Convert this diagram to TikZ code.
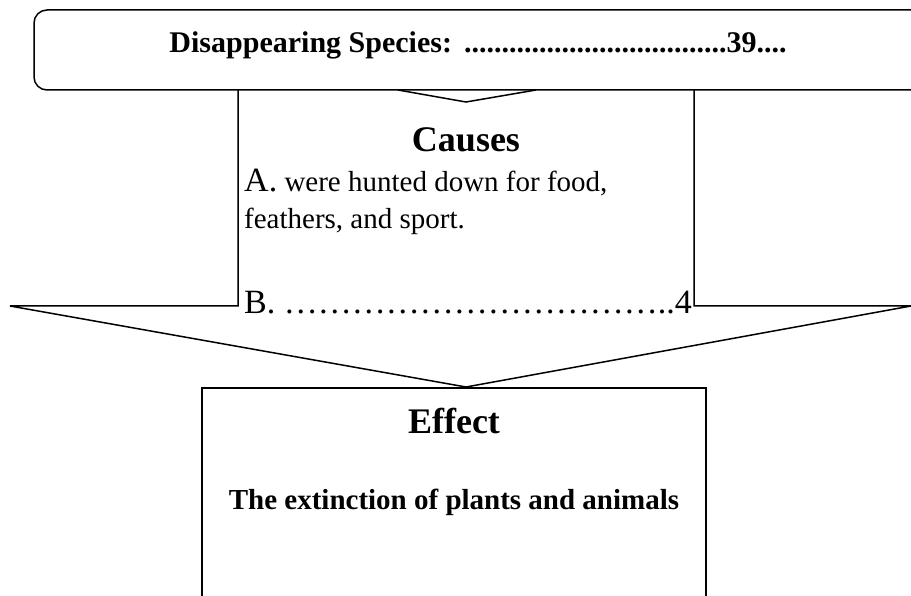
\documentclass[tikz,border=0pt]{standalone}
\usepackage{fontspec}
\setmainfont{Liberation Serif}
\usepackage{tikz}
\usetikzlibrary{positioning, calc}

\begin{document}
\begin{tikzpicture}[
    x=1pt, y=-1pt,
    titlebox/.style={rectangle, draw, rounded corners=13pt, line width=1.5pt,
                  minimum width=900pt, minimum height=80pt},
    effectbox/.style={rectangle, draw, line width=1.5pt,
                  minimum width=504pt, minimum height=240pt},
    heading/.style={font=\fontsize{36}{40}\selectfont\bfseries, inner sep=0pt},
    boldtext/.style={font=\fontsize{29}{34}\selectfont\bfseries, inner sep=0pt},
    plaintext/.style={font=\fontsize{29}{34}\selectfont, inner sep=0pt},
    outline/.style={line width=1.5pt, line join=miter}
]
\useasboundingbox (0,0) rectangle (911,596);

% title bar
\node[titlebox] (title) at (484,50) {};
\node[boldtext, anchor=base, font=\fontsize{30}{34}\selectfont\bfseries] (titletext) at (478,53) {Disappearing Species:\hspace{12pt}...................................39....};
\coordinate (vl) at (398,90);
\coordinate (vtip) at (466,102);
\coordinate (vr) at (536,90);
\draw[outline] (vl) -- (vtip) -- (vr);

% causes arrow
\coordinate (shaftl) at (238,90);
\coordinate (shaftr) at (694,90);
\coordinate (headl) at (10,306);
\coordinate (headr) at (911,306);
\coordinate (headtip) at (466,387);
\draw[outline] (shaftl) |- (headl) -- (headtip) -- (headr) -| (shaftr);

\node[heading, anchor=base] (causes) at (466,152) {Causes};
\node[plaintext, anchor=base west] (causea) at (244,192) {{\fontsize{34}{40}\selectfont A.} were hunted down for food,};
\node[plaintext, anchor=base west] (causea2) at (244,229) {feathers, and sport.};
\node[plaintext, anchor=base west, font=\fontsize{34}{40}\selectfont] (causeb) at (244,313) {B. ……………………………..4};

% effect box
\node[effectbox, anchor=north] (effect) at (454,387) {};
\node[heading, anchor=base] (efftitle) at (454,433) {Effect};
\node[boldtext, anchor=base] (efftext) at (454,509) {The extinction of plants and animals};
\end{tikzpicture}
\end{document}
